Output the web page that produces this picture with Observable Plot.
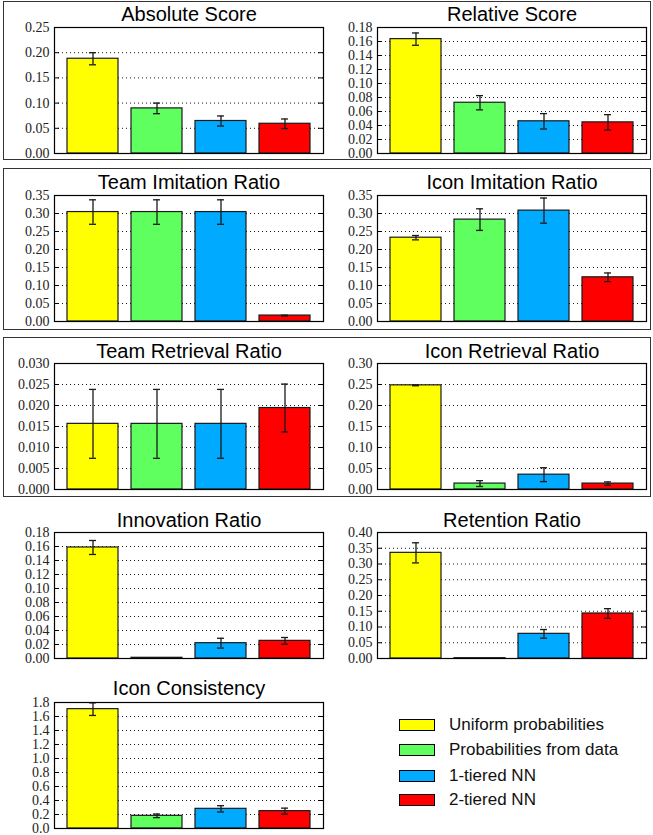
<!DOCTYPE html>
<html><head><meta charset="utf-8">
<script src="https://cdn.jsdelivr.net/npm/d3@7"></script>
<script src="https://cdn.jsdelivr.net/npm/@observablehq/plot@0.6"></script>
<style>
body{margin:0;background:#fff;}
#page{position:relative;width:653px;height:835px;background:#fff;overflow:hidden;}
.panel{position:absolute;}
.panel g[aria-label="y-axis tick label"] text{font-family:"Liberation Serif",serif;}
.box{position:absolute;border:1px solid #333;box-sizing:border-box;}
.sw{position:absolute;width:36px;height:12px;border:1px solid #000;box-sizing:border-box;}
.lt{position:absolute;font-family:"Liberation Sans",Arial,sans-serif;font-size:17px;color:#111;line-height:20px;white-space:nowrap;}
</style></head>
<body><div id="page"></div>
<script>
// ---- data ----
const methods = ["Uniform probabilities", "Probabilities from data", "1-tiered NN", "2-tiered NN"];
const methodColors = ["#ffff00", "#60ff60", "#00aaff", "#ff0000"];

const titles = ["Absolute Score", "Relative Score", "Team Imitation Ratio", "Icon Imitation Ratio",
  "Team Retrieval Ratio", "Icon Retrieval Ratio", "Innovation Ratio", "Retention Ratio", "Icon Consistency"];

const absoluteScore    = [0.188, 0.0895, 0.0645, 0.059];
const absoluteScoreErr = [0.012, 0.0105, 0.010, 0.0095];
const relativeScore    = [0.1634, 0.0725, 0.046, 0.0445];
const relativeScoreErr = [0.0088, 0.0102, 0.011, 0.011];
const teamImitation    = [0.304, 0.304, 0.304, 0.0165];
const teamImitationErr = [0.034, 0.034, 0.034, 0.001];
const iconImitation    = [0.2328, 0.283, 0.308, 0.1228];
const iconImitationErr = [0.006, 0.030, 0.035, 0.012];
const teamRetrieval    = [0.01563, 0.01563, 0.01563, 0.0194];
const teamRetrievalErr = [0.0082, 0.0082, 0.0082, 0.0057];
const iconRetrieval    = [0.248, 0.0141, 0.0353, 0.0141];
const iconRetrievalErr = [0.001, 0.007, 0.0165, 0.004];
const innovation       = [0.1586, 0.001, 0.0219, 0.0252];
const innovationErr    = [0.010, 0.0, 0.007, 0.0048];
const retention        = [0.3354, 0.001, 0.0783, 0.1429];
const retentionErr     = [0.032, 0.0, 0.0137, 0.0153];
const iconConsistency    = [1.705, 0.181, 0.281, 0.248];
const iconConsistencyErr = [0.09, 0.026, 0.045, 0.043];

const ticksAbsolute   = [0, 0.05, 0.10, 0.15, 0.20, 0.25];
const ticksRelative   = [0, 0.02, 0.04, 0.06, 0.08, 0.10, 0.12, 0.14, 0.16, 0.18];
const ticksImitation  = [0, 0.05, 0.10, 0.15, 0.20, 0.25, 0.30, 0.35];
const ticksTeamRetr   = [0, 0.005, 0.010, 0.015, 0.020, 0.025, 0.030];
const ticksIconRetr   = [0, 0.05, 0.10, 0.15, 0.20, 0.25, 0.30];
const ticksInnovation = [0, 0.02, 0.04, 0.06, 0.08, 0.10, 0.12, 0.14, 0.16, 0.18];
const ticksRetention  = [0, 0.05, 0.10, 0.15, 0.20, 0.25, 0.30, 0.35, 0.40];
const ticksConsist    = [0, 0.2, 0.4, 0.6, 0.8, 1.0, 1.2, 1.4, 1.6, 1.8];

const panelValues = [absoluteScore, relativeScore, teamImitation, iconImitation, teamRetrieval, iconRetrieval, innovation, retention, iconConsistency];
const panelErrors = [absoluteScoreErr, relativeScoreErr, teamImitationErr, iconImitationErr, teamRetrievalErr, iconRetrievalErr, innovationErr, retentionErr, iconConsistencyErr];
const panelTicks  = [ticksAbsolute, ticksRelative, ticksImitation, ticksImitation, ticksTeamRetr, ticksIconRetr, ticksInnovation, ticksRetention, ticksConsist];
const panelFormat = [".2f", ".2f", ".2f", ".2f", ".3f", ".2f", ".2f", ".2f", ".1f"];

// ---- layout ----
const page = document.getElementById("page");
const frameTops = [27, 195, 363, 532, 702];
const titleDy = [-13, -13, -12, -12, -14];
const W = 326, H = 160, ML = 54, MR = 3, MT = 27, MB = 7;
const plotW = W - ML - MR;

[[3, 1, 648, 159], [3, 168, 648, 162], [3, 337, 648, 160]].forEach(([l, t, w, h]) => {
  const b = document.createElement("div");
  b.className = "box";
  Object.assign(b.style, {left: l + "px", top: t + "px", width: w + "px", height: h + "px"});
  page.appendChild(b);
});

titles.forEach((title, i) => {
  const row = Math.floor(i / 2), col = i % 2;
  const ticks = panelTicks[i];
  const data = methods.map((m, j) => ({method: m, value: panelValues[i][j], err: panelErrors[i][j]}));
  const withErr = data.filter(d => d.err > 0);
  const ink = "#1a1a1a";
  const chart = Plot.plot({
    width: W, height: H, marginLeft: ML, marginRight: MR, marginTop: MT, marginBottom: MB,
    x: {domain: methods, padding: 0.2, axis: null},
    y: {domain: [0, ticks[ticks.length - 1]], axis: null},
    color: {domain: methods, range: methodColors},
    style: {background: "transparent", overflow: "visible", fontFamily: "Liberation Serif", fontSize: "14px"},
    marks: [
      Plot.gridY(ticks, {stroke: "#000", strokeOpacity: 0.9, strokeDasharray: "1,3", strokeWidth: 1}),
      Plot.barY(data, {x: "method", y: "value", fill: "method", stroke: ink, strokeWidth: 1.2}),
      Plot.ruleX(withErr, {x: "method", y1: d => d.value - d.err, y2: d => d.value + d.err, stroke: ink, strokeWidth: 1.3}),
      Plot.tickY(withErr, {x: "method", y: d => d.value + d.err, insetLeft: 22, insetRight: 22, stroke: ink, strokeWidth: 1.3}),
      Plot.tickY(withErr, {x: "method", y: d => d.value - d.err, insetLeft: 22, insetRight: 22, stroke: ink, strokeWidth: 1.3}),
      Plot.tickY(ticks, {y: d => d, insetRight: plotW - 5, stroke: "#000", strokeWidth: 1}),
      Plot.tickY(ticks, {y: d => d, insetLeft: plotW - 5, stroke: "#000", strokeWidth: 1}),
      Plot.axisY(ticks, {tickSize: 0, tickPadding: 5, label: null, tickFormat: d3.format(panelFormat[i]),
        fontSize: 14, fontFamily: "Liberation Serif", fill: "#222"}),
      Plot.frame({stroke: "#000", strokeWidth: 1.2}),
      Plot.text([title], {text: d => d, frameAnchor: "top", lineAnchor: "middle", dy: titleDy[row], fontSize: 20,
        fontFamily: "Liberation Sans", fill: "#000"})
    ]
  });
  chart.classList.add("panel");
  chart.style.left = (col * 323) + "px";
  chart.style.top = (frameTops[row] - MT) + "px";
  chart.style.position = "absolute";
  page.appendChild(chart);
});

// ---- legend ----
const legendY = [725, 750, 776, 800];
methods.forEach((m, j) => {
  const s = document.createElement("div");
  s.className = "sw";
  Object.assign(s.style, {left: "399px", top: (legendY[j] - 6) + "px", background: methodColors[j]});
  page.appendChild(s);
  const t = document.createElement("div");
  t.className = "lt";
  t.textContent = m;
  Object.assign(t.style, {left: "449px", top: (legendY[j] - 10) + "px"});
  page.appendChild(t);
});
</script>
</body></html>
